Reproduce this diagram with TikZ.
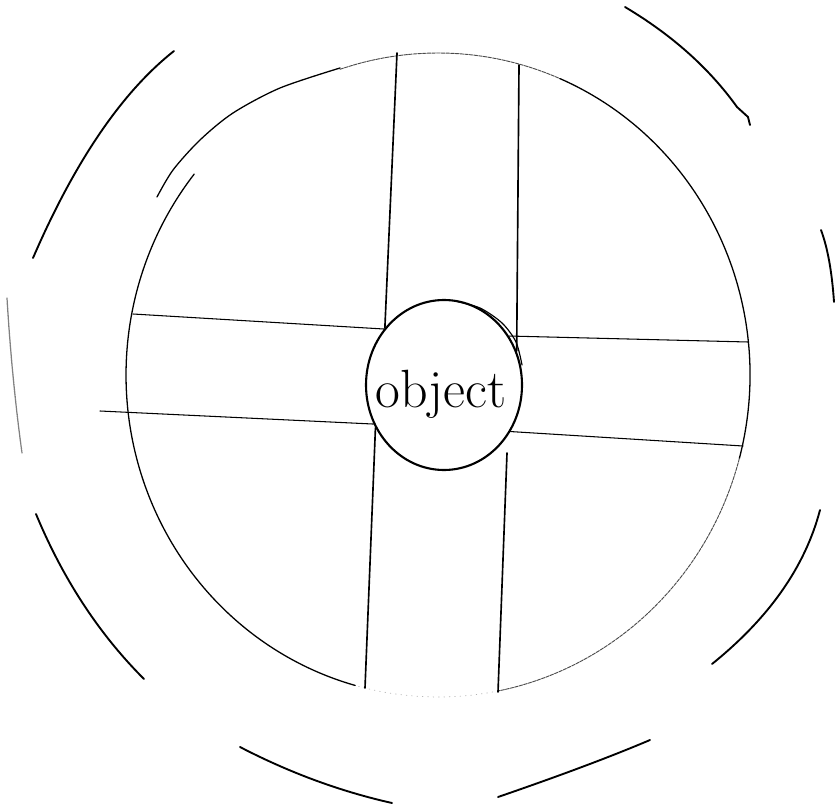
\documentclass[tikz,border=0pt]{standalone}
\usetikzlibrary{shapes.geometric}

\begin{document}
\begin{tikzpicture}[x=0.3mm, y=-0.3mm, line cap=round, line join=round,
  arc/.style={line width=1.6pt},
  rim/.style={line width=1.1pt},
  faint/.style={line width=0.8pt, black!70, dash pattern=on 3pt off 1pt},
  ghost/.style={line width=0.6pt, gray!60, loosely dotted},
  smudge/.style={line width=1.1pt, gray, dash pattern=on 1.5pt off 0.6pt},
  bar/.style={line width=1.4pt},
  cut/.style={line width=0.9pt}]
\useasboundingbox (0,0) rectangle (835,808);
% outer arcs
\draw[arc] (174,51) .. controls (122,92) and (75,161) .. (33,258);
\draw[smudge] (7,298) .. controls (10,349) and (15,402) .. (22,453);
\draw[arc] (36,514) .. controls (63,579) and (99,634) .. (144,679);
\draw[arc] (240,747) .. controls (292,774) and (343,792) .. (392,803);
\draw[arc] (498,797) .. controls (559,776) and (610,757) .. (650,740);
\draw[arc] (820,510) .. controls (805,567) and (769,618) .. (712,664);
\draw[arc] (625,7) .. controls (672,35) and (709,68) .. (737,107) -- (748,117) -- (750,125);
\draw[arc] (821,230) .. controls (828,249) and (832,273) .. (834,302);
% big circle
\draw[rim] plot[smooth] coordinates {(157,197) (173,170) (200,140) (233,113) (280,88) (340,68)};
\draw[faint] (438,375) ++(251.7:312 and 322) arc[start angle=251.7, end angle=293, x radius=312, y radius=322];
\draw[rim] (438,375) ++(293:312 and 322) arc[start angle=293, end angle=375, x radius=312, y radius=322];
\draw[faint] (438,375) ++(375:312 and 322) arc[start angle=375, end angle=438.9, x radius=312, y radius=322];
\draw[ghost] (438,375) ++(438.9:312 and 322) arc[start angle=438.9, end angle=465.4, x radius=312, y radius=322];
\draw[rim] (438,375) ++(218.6:312 and 322) arc[start angle=218.6, end angle=105.4, x radius=312, y radius=322];
% object
\node[ellipse, draw, line width=1.8pt, minimum width=46.8mm, minimum height=51mm, inner sep=0pt] (obj) at (444,385) {};
\node[anchor=base, font=\fontsize{46}{46}\selectfont] (objtext) at (441,407) {object};
\draw[line width=1pt] plot[smooth] coordinates {(455,301) (480,308) (502,323) (516,342) (522,365)};
% cross
\coordinate (topL) at (397,53);
\coordinate (topR) at (519,65);
\coordinate (botL) at (365,688);
\coordinate (botR) at (498,692);
\coordinate (gapR) at (507,453);
\coordinate (westU) at (133,314);
\coordinate (westD) at (100,411);
\coordinate (eastU) at (748,342);
\coordinate (eastD) at (743,446);
\draw[bar] (topL) -- (obj.136);
\draw[bar] (obj.212) -- (botL);
\draw[bar] (topR) -- (obj.25);
\draw[bar] (gapR) -- (botR);
\draw[cut] (westU) -- (obj.137);
\draw[cut] (obj.37) -- (eastU);
\draw[cut] (westD) -- (obj.209);
\draw[cut] (obj.325) -- (eastD);
\end{tikzpicture}
\end{document}
